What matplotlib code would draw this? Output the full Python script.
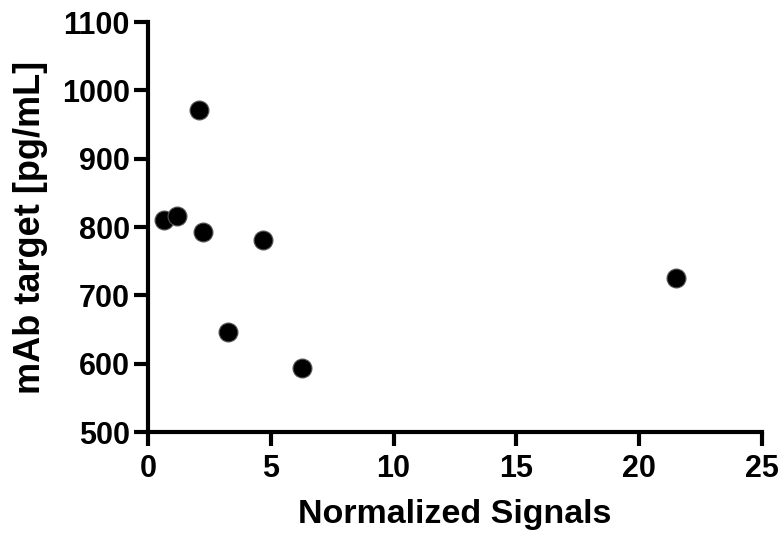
import matplotlib
matplotlib.use("Agg")
import matplotlib.pyplot as plt

x_signal = [0.65, 1.18, 2.08, 2.24, 3.26, 4.68, 6.27, 21.5]
y_mab = [810, 816, 971, 793, 647, 781, 594, 726]
x_ticks = [0, 5, 10, 15, 20, 25]
y_ticks = [500, 600, 700, 800, 900, 1000, 1100]

plt.rcParams['font.family'] = ['Liberation Sans', 'DejaVu Sans']
plt.rcParams['font.weight'] = 'bold'

fig = plt.figure(figsize=(7.82, 5.34), dpi=100)
ax = fig.add_axes([148/782, (534-432)/534, (762-148)/782, (432-22)/534])

ax.scatter(x_signal, y_mab, s=185, c='black', edgecolors='#555555', linewidths=0.8, zorder=3, clip_on=False)

ax.set_xlim(0, 25)
ax.set_ylim(500, 1100)
ax.set_xticks(x_ticks)
ax.set_yticks(y_ticks)
for s in ['top', 'right']:
    ax.spines[s].set_visible(False)
for s in ['left', 'bottom']:
    ax.spines[s].set_linewidth(3)
ax.tick_params(axis='both', width=3, length=10, labelsize=22, pad=3)
ax.tick_params(axis='x', pad=6)
for lab in ax.get_xticklabels() + ax.get_yticklabels():
    lab.set_fontweight('bold')

ax.set_xlabel('Normalized Signals', fontsize=24.5, fontweight='bold', labelpad=11)
ax.set_ylabel('mAb target [pg/mL]', fontsize=26, fontweight='bold', labelpad=10)

fig.savefig('out.png', dpi=100)
